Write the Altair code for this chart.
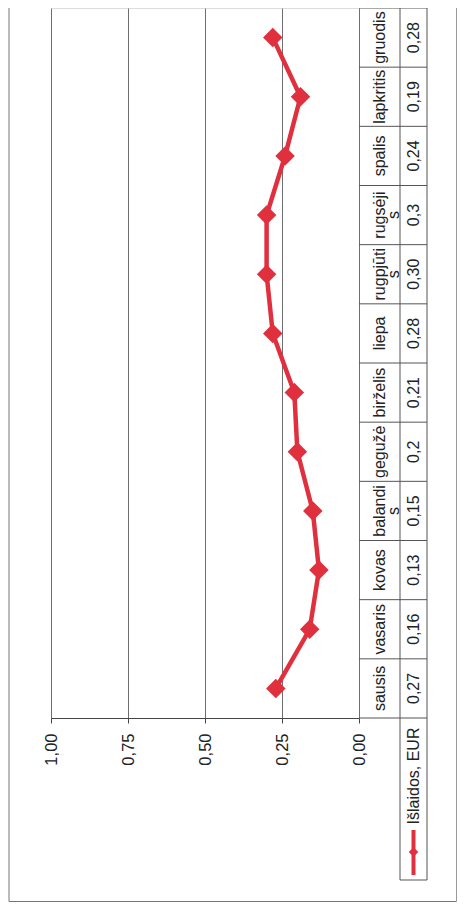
import altair as alt
import pandas as pd

# ---- data ----
months = ["sausis", "vasaris", "kovas", "balandi\ns", "gegužė", "birželis",
          "liepa", "rugpjūti\ns", "rugsėji\ns", "spalis", "lapkritis", "gruodis"]
values = [0.27, 0.16, 0.13, 0.15, 0.20, 0.21, 0.28, 0.30, 0.30, 0.24, 0.19, 0.28]
value_labels = ["0,27", "0,16", "0,13", "0,15", "0,2", "0,21",
                "0,28", "0,30", "0,3", "0,24", "0,19", "0,28"]
ticks = [0.0, 0.25, 0.50, 0.75, 1.0]
series_name = "Išlaidos, EUR"

# ---- style / layout ----
RED = "#e0303e"
LINE = "#555555"
GRID = "#6e6e6e"
TXT = "#222222"
FONT = "Liberation Sans"
W, H = 308, 710
COL1, COL2, COL3 = W, 349, 376      # table column edges (month row, value row)
LEG_BOTTOM = 872

df = pd.DataFrame({"month": months, "value": values, "label": value_labels,
                   "idx": list(range(len(months)))})
one = pd.DataFrame({"series": [series_name]})

yscale = alt.Scale(type="band", paddingInner=0, paddingOuter=0)
ysort = list(reversed(months))


def Y(**kw):
    return alt.Y("month:N", sort=ysort, scale=yscale, axis=None, **kw)


xaxis = alt.Axis(values=ticks, grid=True, gridColor=GRID, gridWidth=1,
                 domain=True, domainColor="#444444", domainWidth=1.2,
                 ticks=True, tickColor="#444444", tickSize=5,
                 labelExpr="replace(format(datum.value, '.2f'), '.', ',')",
                 labelAngle=270, labelAlign="right", labelBaseline="middle",
                 labelPadding=10, labelFlush=False, labelOverlap=False,
                 labelFont=FONT, labelFontSize=16.5, labelColor=TXT, title=None)
X = alt.X("value:Q", scale=alt.Scale(domain=[0, 1], reverse=True, nice=False),
          axis=xaxis)

base = alt.Chart(df)

line = base.mark_line(color=RED, strokeWidth=4.5).encode(
    x=X, y=Y(), order=alt.Order("idx:Q"))
points = base.mark_point(shape="diamond", filled=True, size=380,
                         color=RED, opacity=1).encode(x=X, y=Y())

text_kw = dict(angle=270, align="center", baseline="middle", font=FONT,
               fontSize=16, color=TXT, lineBreak="\n", lineHeight=14)
month_text = base.mark_text(**text_kw).encode(
    y=Y(), x=alt.value((COL1 + COL2) / 2), text="month:N")
value_text = base.mark_text(**text_kw).encode(
    y=Y(), x=alt.value((COL2 + COL3) / 2), text="label:N")

# table cell borders
hrules = base.mark_rule(color=LINE, strokeWidth=1).encode(
    y=Y(bandPosition=0), x=alt.value(COL1), x2=alt.value(COL3))
lines = alt.Chart(one)
tbl_bottom = lines.mark_rule(color=LINE, strokeWidth=1.2).encode(
    y=alt.value(H), x=alt.value(COL1), x2=alt.value(COL3))
v2 = lines.mark_rule(color=LINE, strokeWidth=1).encode(
    x=alt.value(COL2), y=alt.value(0), y2=alt.value(LEG_BOTTOM))
v3 = lines.mark_rule(color=LINE, strokeWidth=1).encode(
    x=alt.value(COL3), y=alt.value(0), y2=alt.value(LEG_BOTTOM))
leg_bottom = lines.mark_rule(color=LINE, strokeWidth=1).encode(
    y=alt.value(LEG_BOTTOM), x=alt.value(COL2), x2=alt.value(COL3))

# outer frame
fl = lines.mark_rule(color="#777777", strokeWidth=1).encode(
    x=alt.value(-42), y=alt.value(0), y2=alt.value(893.5))
fb = lines.mark_rule(color="#777777", strokeWidth=1).encode(
    y=alt.value(893.5), x=alt.value(-42), x2=alt.value(405.5))
fr = lines.mark_rule(color="#999999", strokeWidth=1).encode(
    x=alt.value(405.5), y=alt.value(0), y2=alt.value(893.5))

# legend inside the table's header cell
lx = (COL2 + COL3) / 2
leg_line = lines.mark_rule(color=RED, strokeWidth=4).encode(
    x=alt.value(lx), y=alt.value(822), y2=alt.value(867))
leg_pt = lines.mark_point(shape="diamond", filled=True, size=90,
                          color=RED, opacity=1).encode(
    x=alt.value(lx), y=alt.value(844))
leg_txt = lines.mark_text(angle=270, align="center", baseline="middle",
                          font=FONT, fontSize=16, color=TXT).encode(
    x=alt.value(lx), y=alt.value(768), text="series:N")

chart = alt.layer(
    line, points, hrules, tbl_bottom, v2, v3, leg_bottom,
    month_text, value_text, leg_line, leg_pt, leg_txt, fl, fb, fr
).properties(
    width=W, height=H,
    autosize=alt.AutoSizeParams(type="none"),
    padding={"left": 43, "top": 0, "right": 99, "bottom": 186},
).configure_view(stroke=LINE, strokeWidth=1.2).configure(background="white")

chart.save("out.html", embed_options={"renderer": "svg", "actions": False})
